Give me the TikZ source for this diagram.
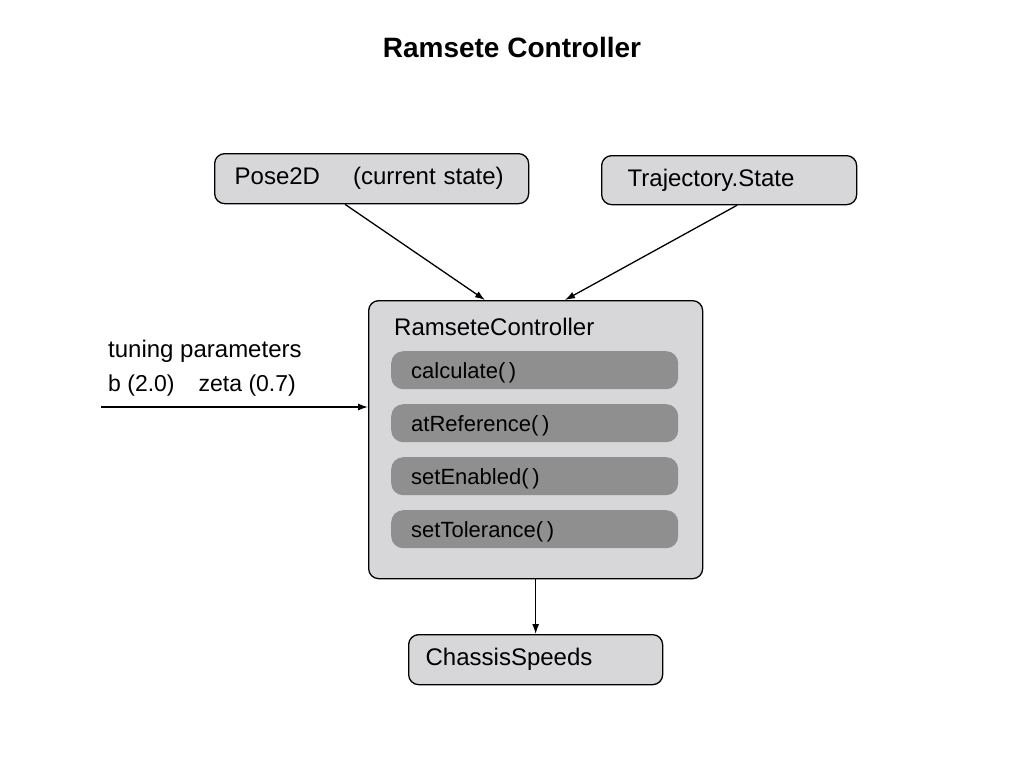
\documentclass[tikz,border=0pt]{standalone}
\usepackage{fontspec}
\setmainfont{Liberation Sans}
\usetikzlibrary{arrows.meta}
\usetikzlibrary{calc}

\definecolor{boxgray}{HTML}{D7D6D8}
\definecolor{methodgray}{HTML}{8F8F8F}

\begin{document}
\begin{tikzpicture}[x=1pt,y=-1pt,
   every node/.style={font=\fontsize{24}{28}\selectfont},
   classbox/.style={draw, line width=1.3pt, fill=boxgray, rounded corners=10pt,
      anchor=north west, inner xsep=20pt, align=left},
   methodbox/.style={fill=methodgray, rounded corners=12pt, anchor=north west,
      minimum width=287pt, minimum height=38pt, text width=247pt, inner xsep=20pt, align=left,
      text height=16pt, text depth=0pt, font=\fontsize{22}{26}\selectfont},
   link/.style={line width=1.3pt, -{Latex[length=10pt,width=7pt]}}]
   \useasboundingbox (0,0) rectangle (1024,768);
   \node[font=\fontsize{28}{32}\selectfont\bfseries] (title) at (512,47) {Ramsete Controller};
   \node[classbox, minimum width=314pt, minimum height=50pt, text width=274pt] (pose) at (214,153)
      {Pose2D\hspace{33pt}(current state)};
   \node[classbox, minimum width=255pt, minimum height=49pt, text width=203pt, inner xsep=26pt] (traj) at (601,155)
      {Trajectory.State};
   \node[classbox, minimum width=334pt, minimum height=278pt, inner sep=0pt] (ctrl) at (368,300) {};
   \node[anchor=base west, inner sep=0pt] (ctrlname) at (394,335) {RamseteController};
   \node[methodbox] (calc) at (391,351) {calculate(\,)};
   \node[methodbox] (atref) at (391,404) {atReference(\,)};
   \node[methodbox] (enabled) at (391,457) {setEnabled(\,)};
   \node[methodbox] (tol) at (391,510) {setTolerance(\,)};
   \node[classbox, minimum width=254pt, minimum height=50pt, text width=220pt, inner xsep=17pt] (speeds) at (408,634)
      {ChassisSpeeds};
   \node[anchor=base west, inner sep=0pt] (tuning) at (108,357) {tuning parameters};
   \node[anchor=base west, inner sep=0pt, font=\fontsize{23}{26}\selectfont] (params) at (108,391)
      {b (2.0)\hspace{24pt}zeta (0.7)};
   \coordinate (tunein) at (101,407);
   \draw[link] ([xshift=131pt]pose.south west) -- ([xshift=117pt]ctrl.north west);
   \draw[link] ([xshift=136pt]traj.south west) -- ([xshift=197pt]ctrl.north west);
   \draw[link] (tunein) -- (tunein -| ctrl.west);
   \draw[link] (ctrl.south) -- (speeds.north);
\end{tikzpicture}
\end{document}
